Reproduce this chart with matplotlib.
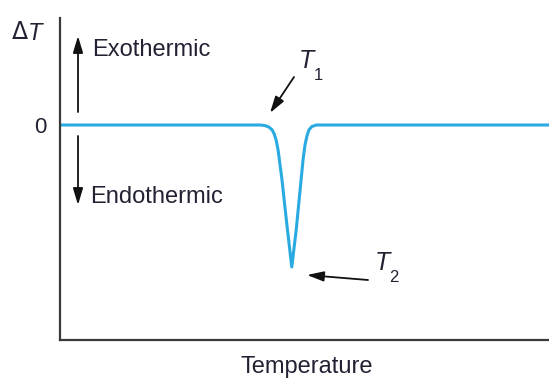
import matplotlib
matplotlib.use("Agg")
import matplotlib.pyplot as plt

# Data (arbitrary units)
temperature = [0, 40.9, 41.9, 42.7, 43.4, 43.8, 44.2, 44.6, 45.4, 46.4, 47.4,
               48.3, 49.1, 49.7, 50.1, 50.5, 50.9, 51.5, 52.4, 53.2, 100]
delta_t = [0, 0, -0.004, -0.014, -0.035, -0.063, -0.106, -0.176, -0.387, -0.704, -1.0,
           -0.739, -0.458, -0.246, -0.141, -0.077, -0.035, -0.011, 0, 0, 0]
ytick_values = [0]
ytick_labels = ["0"]

plt.rcParams['font.family'] = ['Liberation Sans', 'DejaVu Sans']

W, H = 549, 385
fig = plt.figure(figsize=(W / 100, H / 100), dpi=100)
ax = fig.add_axes([60 / W, (H - 340) / H, 1 - 60 / W, (340 - 18) / H])

ax.plot(temperature, delta_t, color='#29abe2', lw=2.2,
        solid_joinstyle='round', solid_capstyle='round')

ax.set_xlim(0, 100)
ax.set_ylim(-(340 - 125) / 142, (125 - 18) / 142)
for s in ['top', 'right']:
    ax.spines[s].set_visible(False)
for s in ['left', 'bottom']:
    ax.spines[s].set_linewidth(1.6)
    ax.spines[s].set_color('#3a3a3a')
ax.set_xticks([])
ax.set_yticks(ytick_values)
ax.set_yticklabels(ytick_labels, fontsize=16, color='#222233')
ax.tick_params(axis='y', length=0, pad=10)

txt = dict(fontsize=17, color='#222233')


def px(x, y):
    return (x / W, 1 - y / H)


fig.text(*px(29, 33), r'$\Delta$', ha='right', va='center', fontsize=17, color='#222233')
fig.text(*px(28, 33), 'T', ha='left', va='center', style='italic', **txt)
fig.text(*px(92, 50), 'Exothermic', ha='left', va='center', **txt)
fig.text(*px(90, 197), 'Endothermic', ha='left', va='center', **txt)
fig.text(*px(307, 367), 'Temperature', ha='center', va='center', **txt)

fig.text(*px(299, 61), 'T', ha='left', va='center', style='italic', fontsize=18, color='#222233')
fig.text(*px(314, 75), '1', ha='left', va='center', fontsize=12, color='#222233')
fig.text(*px(375, 263), 'T', ha='left', va='center', style='italic', fontsize=18, color='#222233')
fig.text(*px(389, 277), '2', ha='left', va='center', fontsize=12, color='#222233')

arrow = dict(arrowstyle='-|>,head_length=1.0,head_width=0.3', color='#111111',
             lw=1.3, shrinkA=0, shrinkB=0)
kw = dict(xycoords='figure fraction', textcoords='figure fraction', arrowprops=arrow)
ax.annotate('', xy=px(78, 36), xytext=px(78, 112), **kw)
ax.annotate('', xy=px(78, 205), xytext=px(78, 136), **kw)
ax.annotate('', xy=px(270, 113), xytext=px(294, 77), **kw)
ax.annotate('', xy=px(307, 275), xytext=px(368, 280), **kw)

fig.savefig('out.png', dpi=100)
